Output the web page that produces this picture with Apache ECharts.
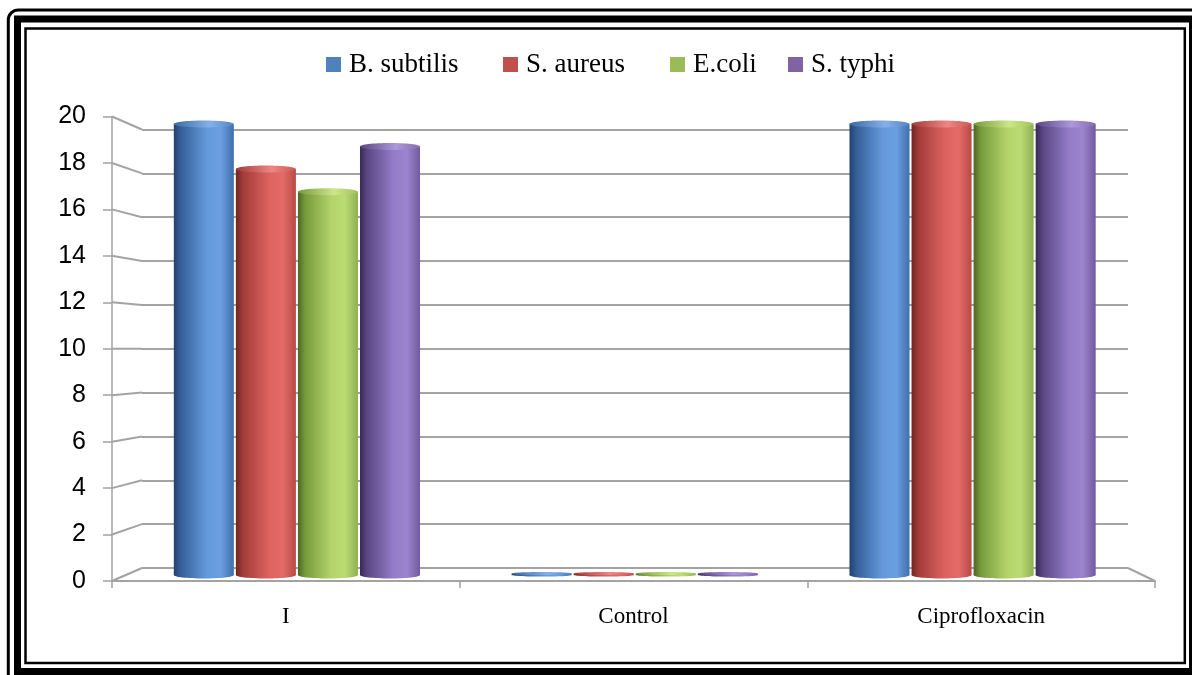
<!DOCTYPE html>
<html>
<head>
<meta charset="utf-8">
<title>Zone of inhibition</title>
<script src="https://cdn.jsdelivr.net/npm/echarts@6/dist/echarts.min.js"></script>
<style>
  html, body { margin: 0; padding: 0; background: #ffffff; }
  #chart { width: 1192px; height: 675px; }
</style>
</head>
<body>
<div id="chart"></div>
<script>
// ---- data ----
const categories = ['I', 'Control', 'Ciprofloxacin'];
const seriesNames = ['B. subtilis', 'S. aureus', 'E.coli', 'S. typhi'];
const bSubtilis = [20, 0, 20];
const sAureus   = [18, 0, 20];
const eColi     = [17, 0, 20];
const sTyphi    = [19, 0, 20];
const yMin = 0, yMax = 20, yStep = 2;

const seriesValues = [bSubtilis, sAureus, eColi, sTyphi];

// ---- look ----
const W = 1192, H = 675;
// front plane (axis labels), back wall (gridlines), middle plane (cylinders)
const FRONT = { left: 112, right: W - 1155, top: 116.5, bottom: H - 581 };
const BACK  = { left: 142, right: W - 1128, top: 129.5, bottom: H - 568 };
const MID   = { left: 128, right: W - 1141.5, top: 124, bottom: H - 575 };

const GRID_GREY = '#a3a3a3';
const baseColors = ['#4f81bd', '#c0504d', '#9bbb59', '#8064a2'];
const bodyStops = [
  [[0, '#23426c'], [0.12, '#35609a'], [0.55, '#6499db'], [0.78, '#6a9fe2'], [1, '#406fad']],
  [[0, '#722522'], [0.12, '#a23c39'], [0.55, '#dc625f'], [0.78, '#e56b68'], [1, '#b84a47']],
  [[0, '#4d6626'], [0.12, '#779a3c'], [0.55, '#b2d36a'], [0.78, '#bbdc73'], [1, '#8fb050']],
  [[0, '#372a55'], [0.12, '#5b4783'], [0.55, '#937bc6'], [0.78, '#9c84cf'], [1, '#735b9f']]
];
const capStops = [
  [[0, '#3e6aa4'], [0.6, '#85b1ea'], [1, '#5585c4']],
  [[0, '#a23c39'], [0.6, '#ee8683'], [1, '#cc5855']],
  [[0, '#789a3e'], [0.6, '#cde689'], [1, '#a3c25c']],
  [[0, '#594681'], [0.6, '#ad98da'], [1, '#856daf']]
];
const BAR_FRAC = 0.1777;   // cylinder width as share of a category band
const GAP_FRAC = 0.006;    // gap between neighbouring cylinders

function cylinder(idx) {
  return function (params, api) {
    const ci = api.value(0);
    const v = api.value(1);
    const base = api.coord([ci, 0]);
    const top = api.coord([ci, v]);
    const band = api.size([1, 0])[0];
    const w = band * BAR_FRAC;
    const gap = band * GAP_FRAC;
    const cx = base[0] + (idx - 1.5) * (w + gap);
    const ry = v > 0 ? 3.5 : 1.6;
    const h = Math.max(base[1] - top[1], 1.5);
    const body = new echarts.graphic.LinearGradient(0, 0, 1, 0,
      bodyStops[idx].map(s => ({ offset: s[0], color: s[1] })));
    const cap = new echarts.graphic.LinearGradient(0, 0, 1, 0,
      capStops[idx].map(s => ({ offset: s[0], color: s[1] })));
    return {
      type: 'group',
      children: [
        { type: 'ellipse', shape: { cx: cx, cy: base[1], rx: w / 2, ry: ry }, style: { fill: body } },
        { type: 'rect', shape: { x: cx - w / 2, y: base[1] - h, width: w, height: h }, style: { fill: body } },
        { type: 'ellipse', shape: { cx: cx, cy: base[1] - h, rx: w / 2, ry: ry }, style: { fill: cap } }
      ]
    };
  };
}

const legendLeft = [321, 498, 665, 783];

const chart = echarts.init(document.getElementById('chart'), null, { renderer: 'canvas' });

const option = {
  backgroundColor: '#ffffff',
  animation: false,
  legend: seriesNames.map((n, i) => ({
    data: [n],
    left: legendLeft[i],
    top: 46,
    icon: 'rect',
    itemWidth: 15,
    itemHeight: 15,
    itemGap: 0,
    selectedMode: false,
    textStyle: { fontFamily: 'Liberation Serif', fontSize: 27, color: '#000000', padding: [0, 0, 0, 3] }
  })),
  grid: [
    Object.assign({ outerBoundsMode: 'none', containLabel: false }, BACK),
    Object.assign({ outerBoundsMode: 'none', containLabel: false }, FRONT),
    Object.assign({ outerBoundsMode: 'none', containLabel: false }, MID)
  ],
  xAxis: [
    { gridIndex: 0, type: 'category', data: categories, show: false },
    {
      gridIndex: 1, type: 'category', data: categories, boundaryGap: true,
      axisLine: { show: true, lineStyle: { color: GRID_GREY, width: 2 } },
      axisTick: { show: true, inside: false, length: 7, alignWithLabel: false, lineStyle: { color: GRID_GREY, width: 1.5 } },
      axisLabel: { margin: 24, fontFamily: 'Liberation Serif', fontSize: 23, color: '#000000' },
      splitLine: { show: false }
    },
    { gridIndex: 2, type: 'category', data: categories, show: false }
  ],
  yAxis: [
    {
      gridIndex: 0, type: 'value', min: yMin, max: yMax, interval: yStep,
      axisLine: { show: false }, axisTick: { show: false }, axisLabel: { show: false },
      splitLine: { show: true, lineStyle: { color: GRID_GREY, width: 2 } }
    },
    {
      gridIndex: 1, type: 'value', min: yMin, max: yMax, interval: yStep,
      axisLine: { show: true, lineStyle: { color: GRID_GREY, width: 1.5 } },
      axisTick: { show: true, inside: false, length: 9, lineStyle: { color: GRID_GREY, width: 1.5 } },
      axisLabel: { margin: 26, fontFamily: 'Liberation Sans', fontSize: 25, color: '#000000' },
      splitLine: { show: false }
    },
    { gridIndex: 2, type: 'value', min: yMin, max: yMax, interval: yStep, show: false }
  ],
  series: seriesNames.map((n, i) => ({
    name: n,
    type: 'custom',
    xAxisIndex: 2,
    yAxisIndex: 2,
    itemStyle: { color: baseColors[i] },
    encode: { x: 0, y: 1 },
    data: seriesValues[i].map((v, ci) => [ci, v]),
    renderItem: cylinder(i),
    z: 5
  })),
  graphic: [
    { id: 'frameOuter', type: 'rect', z: 100, shape: { x: 8.3, y: 10, width: 1220, height: 700, r: 10 },
      style: { fill: null, stroke: '#000000', lineWidth: 3 } },
    { id: 'frameThick', type: 'rect', z: 100, shape: { x: 17.5, y: 19, width: 1175, height: 652.5 },
      style: { fill: null, stroke: '#000000', lineWidth: 7 } },
    { id: 'frameInner', type: 'rect', z: 100, shape: { x: 25.5, y: 28.5, width: 1159.3, height: 634.5 },
      style: { fill: null, stroke: '#000000', lineWidth: 2.5 } }
  ]
};

chart.setOption(option);

// side wall and floor edges joining the front axis to the back wall
const edges = [];
for (let v = yMin; v <= yMax; v += yStep) {
  const yf = chart.convertToPixel({ yAxisIndex: 1 }, v);
  const yb = chart.convertToPixel({ yAxisIndex: 0 }, v);
  edges.push({
    id: 'wall' + v, type: 'line', z: 1,
    shape: { x1: FRONT.left, y1: yf, x2: BACK.left, y2: yb },
    style: { stroke: GRID_GREY, lineWidth: 2 }
  });
}
const yf0 = chart.convertToPixel({ yAxisIndex: 1 }, yMin);
const yb0 = chart.convertToPixel({ yAxisIndex: 0 }, yMin);
edges.push({
  id: 'floorRight', type: 'line', z: 1,
  shape: { x1: W - FRONT.right, y1: yf0, x2: W - BACK.right, y2: yb0 },
  style: { stroke: GRID_GREY, lineWidth: 2 }
});
chart.setOption({ graphic: edges });
</script>
</body>
</html>
